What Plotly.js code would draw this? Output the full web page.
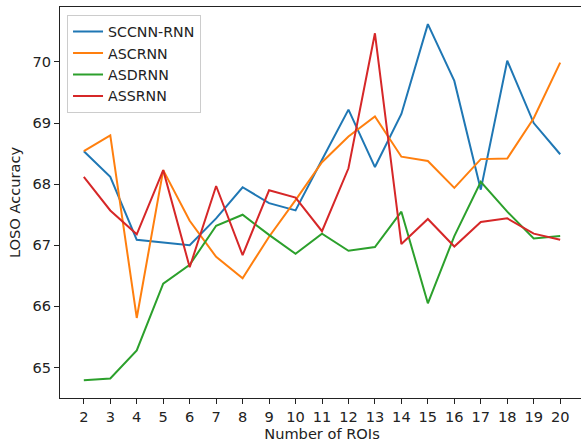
<!DOCTYPE html>
<html>
<head>
<meta charset="utf-8">
<script src="https://cdn.plot.ly/plotly-3.0.1.min.js"></script>
<style>
html,body{margin:0;padding:0;overflow:hidden;background:#fff;}
#chart{width:590px;height:444px;}
</style>
</head>
<body>
<div id="chart"></div>
<script>
const rois = [2,3,4,5,6,7,8,9,10,11,12,13,14,15,16,17,18,19,20];
const sccnnRnn = [68.54,68.12,67.09,67.05,67.00,67.44,67.95,67.69,67.57,68.40,69.22,68.28,69.15,70.62,69.69,67.91,70.02,69.00,68.49];
const ascrnn   = [68.54,68.80,65.81,68.23,67.40,66.81,66.46,67.14,67.74,68.36,68.78,69.11,68.45,68.38,67.94,68.41,68.42,69.08,69.99];
const asdrnn   = [64.79,64.82,65.28,66.37,66.68,67.32,67.50,67.17,66.86,67.19,66.91,66.97,67.55,66.05,67.15,68.04,67.55,67.11,67.15];
const assrnn   = [68.12,67.57,67.18,68.23,66.64,67.97,66.84,67.90,67.78,67.23,68.26,70.47,67.02,67.43,66.98,67.38,67.44,67.19,67.09];
const seriesNames = ['SCCNN-RNN','ASCRNN','ASDRNN','ASSRNN'];
const colors = ['#1f77b4','#ff7f0e','#2ca02c','#d62728'];
const allSeries = [sccnnRnn, ascrnn, asdrnn, assrnn];

const traces = allSeries.map((ys, i) => ({
  x: rois, y: ys, type: 'scatter', mode: 'lines', name: seriesNames[i],
  line: {color: colors[i], width: 2}
}));

const font = {family: 'DejaVu Sans, sans-serif', size: 14.6, color: '#222'};
const layout = {
  width: 590, height: 444,
  margin: {l: 60, r: 6, t: 7, b: 46},
  paper_bgcolor: '#fff', plot_bgcolor: '#fff',
  font: font,
  showlegend: true,
  legend: {x: 0.0134, y: 0.98, xanchor: 'left', yanchor: 'top',
    bgcolor: 'rgba(255,255,255,0.9)', bordercolor: '#cccccc', borderwidth: 1,
    entrywidth: 106, entrywidthmode: 'pixels',
    font: {family: 'DejaVu Sans, sans-serif', size: 14.2, color: '#222'}, tracegroupgap: 0},
  xaxis: {
    range: [1.1, 20.9], tickmode: 'array', tickvals: rois, ticktext: rois.map(String),
    showgrid: false, zeroline: false, showline: true, mirror: true, linecolor: '#222', linewidth: 1,
    ticks: 'outside', ticklen: 5, tickcolor: '#222', tickwidth: 1,
    tickfont: font,
    title: {text: 'Number of ROIs', font: font, standoff: 5}
  },
  yaxis: {
    range: [64.5, 70.9], tickmode: 'array', tickvals: [65,66,67,68,69,70], ticktext: ['65','66','67','68','69','70'],
    showgrid: false, zeroline: false, showline: true, mirror: true, linecolor: '#222', linewidth: 1,
    ticks: 'outside', ticklen: 5, tickcolor: '#222', tickwidth: 1,
    tickfont: font,
    title: {text: 'LOSO Accuracy', font: font, standoff: 8}
  }
};
Plotly.newPlot('chart', traces, layout, {displayModeBar: false, staticPlot: true});
</script>
</body>
</html>
